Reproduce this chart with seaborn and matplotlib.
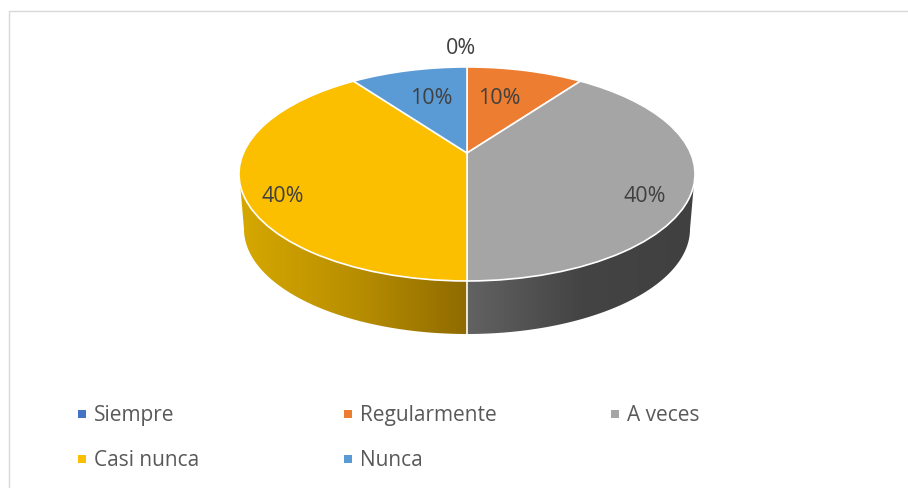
import numpy as np
import matplotlib
matplotlib.use("Agg")
import matplotlib.pyplot as plt
from matplotlib.patches import PathPatch
from matplotlib.path import Path
from matplotlib.transforms import Transform
import seaborn as sns

# Data
categories = ["Siempre", "Regularmente", "A veces", "Casi nunca", "Nunca"]
values = [0, 10, 40, 40, 10]
colors = ["#4472C4", "#ED7D31", "#A5A5A5", "#FBBF00", "#5B9BD5"]

sns.set_theme(style="white")
plt.rcParams["font.family"] = ["Open Sans", "DejaVu Sans"]

# Tilted disc: apex at (467,153), top ellipse spans y 67-281, x 239-695
CX, CY = 467, 153
K, A, B = 0.196, 223.6, 102.9


class TiltTransform(Transform):
    input_dims = 2
    output_dims = 2

    def transform_non_affine(self, xy):
        xy = np.asarray(xy, dtype=float)
        u, v = xy[:, 0], -xy[:, 1]
        d = 1 - K * v
        return np.column_stack([CX + A * u / d, CY + B * v / d])


tilt = TiltTransform()


def rim(theta):
    # point of the top rim at angle theta (radians, pie convention)
    return tilt.transform_non_affine(np.column_stack([np.cos(theta), np.sin(theta)]))


def low(theta):
    # lower rim of the disc
    return np.column_stack([467 + 223 * np.cos(theta), 229 - 105 * np.sin(theta)])


fig = plt.figure(figsize=(9.08, 4.88), dpi=100)
ax = fig.add_axes([0, 0, 1, 1])

wedges, _ = ax.pie(values, colors=colors, startangle=90, counterclock=False,
                   wedgeprops={"edgecolor": "white", "linewidth": 1.2, "zorder": 5})
for w in wedges:
    w.set_transform(tilt + ax.transData)
ax.set_aspect("auto")
ax.set_xlim(0, 908)
ax.set_ylim(488, 0)
ax.set_axis_on()
ax.set_xticks([])
ax.set_yticks([])
for s in ax.spines.values():
    s.set_visible(False)

# Side wall with gradients, left half gold and right half dark gray
sides = [
    (np.radians(np.linspace(197, 270, 80)), np.radians(np.linspace(180, 270, 80)),
     ["#D6A800", "#B98F00", "#8F6B00"], 239, 467),
    (np.radians(np.linspace(270, 343, 80)), np.radians(np.linspace(270, 360, 80)),
     ["#626262", "#444444", "#404040"], 467, 695),
]
for top_arc, low_arc, grad, x0, x1 in sides:
    pts = np.vstack([rim(top_arc), low(low_arc[::-1])])
    patch = PathPatch(Path(np.vstack([pts, pts[0]]), closed=True), fc="none", ec="none")
    ax.add_patch(patch)
    cmap = matplotlib.colors.LinearSegmentedColormap.from_list("g", grad)
    im = ax.imshow(np.linspace(0, 1, 256)[None, :], extent=(x0, x1, 340, 170),
                   cmap=cmap, aspect="auto", zorder=2)
    im.set_clip_path(patch)
ax.set_xlim(0, 908)
ax.set_ylim(488, 0)
ax.plot([467, 467], [281, 334], color="white", lw=1.2, zorder=3)

# Value labels
label_x = [461, 499, 645, 283, 431]
label_y = [48, 98, 196, 196, 98]
for v, x, y in zip(values, label_x, label_y):
    ax.text(x, y, f"{v}%", color="#404040", fontsize=15.5, ha="center", va="center", zorder=6)

# Legend
legend_x = [82, 348, 615, 82, 348]
legend_y = [414, 414, 414, 459, 459]
for name, col, x, y in zip(categories, colors, legend_x, legend_y):
    ax.scatter([x], [y], marker="s", s=33, color=col, linewidths=0, zorder=6)
    ax.text(x + 12, y + 1.5, name, color="#595959", fontsize=15, ha="left", va="center", zorder=6)

# Chart border
ax.plot([9, 9, 908], [488, 11, 11], color="#D9D9D9", lw=1, zorder=1)

fig.savefig("out.png", dpi=100)
